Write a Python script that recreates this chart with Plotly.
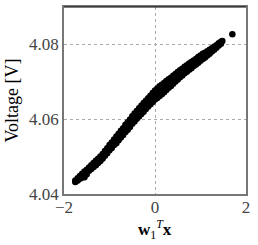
import plotly.graph_objects as go

# projection values w1^T x (shared by the three y series)
wx = [-1.75, -1.70, -1.65, -1.60, -1.55, -1.50, -1.45, -1.40, -1.35, -1.30,
      -1.25, -1.20, -1.15, -1.10, -1.05, -1.00, -0.95, -0.90, -0.85, -0.80,
      -0.75, -0.70, -0.65, -0.60, -0.55, -0.50, -0.45, -0.40, -0.35, -0.30,
      -0.25, -0.20, -0.15, -0.10, -0.05, 0.00, 0.05, 0.10, 0.15, 0.20,
      0.25, 0.30, 0.35, 0.40, 0.45, 0.50, 0.55, 0.60, 0.65, 0.70,
      0.75, 0.80, 0.85, 0.90, 0.95, 1.00, 1.05, 1.10, 1.15, 1.20,
      1.25, 1.30, 1.35, 1.40, 1.45]

# voltage: middle of the cloud, its upper edge and its lower edge
v_mid = [4.0434, 4.0439, 4.0445, 4.0450, 4.0456, 4.0461, 4.0467, 4.0472, 4.0478, 4.0483,
         4.0489, 4.0494, 4.0501, 4.0509, 4.0516, 4.0524, 4.0531, 4.0539, 4.0546, 4.0553,
         4.0561, 4.0568, 4.0576, 4.0583, 4.0590, 4.0598, 4.0605, 4.0612, 4.0619, 4.0626,
         4.0633, 4.0639, 4.0646, 4.0653, 4.0660, 4.0667, 4.0672, 4.0677, 4.0682, 4.0687,
         4.0692, 4.0697, 4.0702, 4.0707, 4.0712, 4.0717, 4.0722, 4.0727, 4.0732, 4.0736,
         4.0741, 4.0745, 4.0750, 4.0754, 4.0759, 4.0763, 4.0768, 4.0772, 4.0777, 4.0781,
         4.0786, 4.0790, 4.0795, 4.0800, 4.0805]

v_hi = [4.0436, 4.0442, 4.0448, 4.0454, 4.0460, 4.0465, 4.0471, 4.0477, 4.0483, 4.0489,
        4.0494, 4.0500, 4.0507, 4.0515, 4.0522, 4.0531, 4.0538, 4.0546, 4.0554, 4.0561,
        4.0569, 4.0576, 4.0585, 4.0592, 4.0599, 4.0608, 4.0615, 4.0622, 4.0629, 4.0636,
        4.0643, 4.0649, 4.0656, 4.0663, 4.0670, 4.0677, 4.0682, 4.0688, 4.0692, 4.0697,
        4.0702, 4.0707, 4.0711, 4.0716, 4.0721, 4.0726, 4.0731, 4.0735, 4.0740, 4.0744,
        4.0749, 4.0753, 4.0757, 4.0761, 4.0766, 4.0770, 4.0775, 4.0778, 4.0782, 4.0786,
        4.0790, 4.0794, 4.0798, 4.0803, 4.0807]

v_lo = [4.0432, 4.0436, 4.0441, 4.0444, 4.0445, 4.0453, 4.0462, 4.0467, 4.0472, 4.0477,
        4.0483, 4.0488, 4.0495, 4.0502, 4.0509, 4.0517, 4.0523, 4.0531, 4.0536, 4.0544,
        4.0551, 4.0558, 4.0566, 4.0572, 4.0579, 4.0588, 4.0594, 4.0601, 4.0607, 4.0614,
        4.0620, 4.0627, 4.0634, 4.0640, 4.0646, 4.0653, 4.0657, 4.0662, 4.0667, 4.0672,
        4.0678, 4.0684, 4.0689, 4.0695, 4.0701, 4.0706, 4.0712, 4.0717, 4.0723, 4.0727,
        4.0732, 4.0736, 4.0742, 4.0746, 4.0751, 4.0756, 4.0761, 4.0765, 4.0770, 4.0775,
        4.0781, 4.0786, 4.0791, 4.0797, 4.0802]

tail_x = [1.48, 1.70]
tail_v = [4.0809, 4.0827]

x_ticks = [-2, 0, 2]
x_labels = ["\u22122", "0", "2"]
y_ticks = [4.04, 4.06, 4.08]
y_labels = ["4.04", "4.06", "4.08"]

xs = wx + wx + wx + tail_x
ys = v_mid + v_hi + v_lo + tail_v

SERIF = "Liberation Serif, Times New Roman, DejaVu Serif, serif"
fig = go.Figure()
fig.add_trace(go.Scatter(
    x=xs, y=ys, mode="markers",
    marker=dict(size=6.5, color="black", line=dict(width=0)),
    showlegend=False, hoverinfo="skip"))

fig.update_layout(
    width=258, height=245,
    margin=dict(l=64, r=12, t=7, b=51, autoexpand=False),
    paper_bgcolor="white", plot_bgcolor="white",
    font=dict(family=SERIF, size=17, color="#444"),
    xaxis=dict(range=[-2, 2], tickvals=x_ticks, ticktext=x_labels,
               showgrid=True, gridcolor="#aaa", griddash="dot", gridwidth=1,
               zeroline=False, showline=True, linecolor="#777", linewidth=1.5,
               mirror=True, ticks="", automargin=False, ticklabelstandoff=-3),
    yaxis=dict(range=[4.04, 4.09], tickvals=y_ticks, ticktext=y_labels,
               showgrid=True, gridcolor="#aaa", griddash="dot", gridwidth=1,
               zeroline=False, showline=True, linecolor="#777", linewidth=1.5,
               mirror=True, ticks="", automargin=False,
               title=dict(text="Voltage [V]",
                          font=dict(family=SERIF, size=18, color="black"), standoff=6)),
    shapes=[dict(type="line", xref="paper", yref="paper", x0=0, x1=1, y0=1, y1=1,
                 line=dict(color="black", width=1))],
    annotations=[dict(text="<b>w</b><sub>1</sub><sup><i>T</i></sup><b>x</b>",
                      xref="paper", yref="paper", x=0.5, y=0, xanchor="center",
                      yanchor="top", yshift=-21, showarrow=False,
                      font=dict(family=SERIF, size=17, color="black"))],
)

fig.write_html("out.html", config={"displayModeBar": False},
               post_script="document.body.style.margin='0';document.body.style.overflow='hidden';")
